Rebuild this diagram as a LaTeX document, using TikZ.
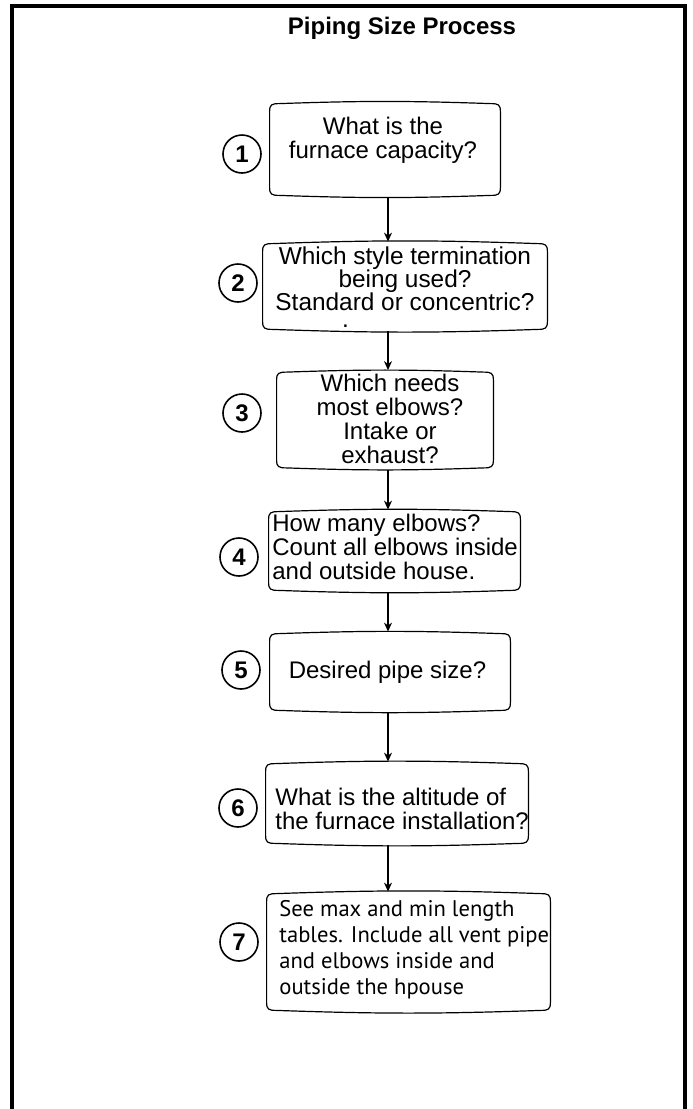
\documentclass[tikz,border=0pt]{standalone}
\usepackage{fontspec}
\setmainfont{Liberation Sans}
\newfontfamily\notefont{PT Sans}
\usetikzlibrary{arrows.meta}

\begin{document}
\begin{tikzpicture}[x=0.5pt, y=0.5pt,
  stepbox/.style={inner sep=0pt, draw=none},
  steptext/.style={inner sep=0pt, align=center, font=\fontsize{12}{12}\selectfont},
  num/.style={circle, draw, line width=0.8pt, inner sep=0pt, minimum size=19pt, font=\fontsize{12}{12}\selectfont\bfseries},
  arr/.style={line width=0.6pt, -{Stealth[length=4.5pt, width=4pt]}}]
\useasboundingbox (0,0) rectangle (692,-1109);

% outer frame
\draw[line width=2pt] (12,-1109) -- (12,-6) -- (685,-6) -- (685,-1109);
\node[font=\fontsize{12}{12}\selectfont\bfseries] (title) at (402,-28) {Piping Size Process};

% boxes
\node[stepbox, minimum width=115pt, minimum height=47.5pt] (q1) at (385,-149.5) {};
\node[stepbox, minimum width=142pt, minimum height=44.5pt] (q2) at (405,-286.5) {};
\node[stepbox, minimum width=108pt, minimum height=49.5pt] (q3) at (385,-420) {};
\node[stepbox, minimum width=125.5pt, minimum height=41pt] (q4) at (394.5,-551) {};
\node[stepbox, minimum width=120pt, minimum height=40pt] (q5) at (390,-672) {};
\node[stepbox, minimum width=131pt, minimum height=41.5pt] (q6) at (397,-803.5) {};
\node[stepbox, minimum width=141.5pt, minimum height=60pt] (q7) at (408.5,-952) {};

\foreach \n in {q1,q2,q3,q4,q5,q6,q7}
  \draw[line width=0.6pt] ([yshift=5pt]\n.south west) -- ([yshift=-5pt]\n.north west)
    .. controls ([yshift=-1.5pt]\n.north west) and ([xshift=1pt,yshift=-1pt]\n.north west) .. ([xshift=5pt,yshift=-1pt]\n.north west)
    to[bend left=2] ([xshift=-5pt,yshift=-1pt]\n.north east)
    .. controls ([xshift=-1pt,yshift=-1pt]\n.north east) and ([yshift=-1.5pt]\n.north east) .. ([yshift=-5pt]\n.north east)
    -- ([yshift=5pt]\n.south east)
    .. controls ([yshift=1.5pt]\n.south east) and ([xshift=-1pt,yshift=1pt]\n.south east) .. ([xshift=-5pt,yshift=1pt]\n.south east)
    to[bend left=2] ([xshift=5pt,yshift=1pt]\n.south west)
    .. controls ([xshift=1pt,yshift=1pt]\n.south west) and ([yshift=1.5pt]\n.south west) .. cycle;

% texts
\node[steptext] (t1) at (383,-140) {What is the\\furnace capacity?};
\node[steptext, font=\fontsize{12.2}{11.5}\selectfont] (t2) at (405,-287) {Which style termination\\being used?\\Standard or concentric?\\[-3pt]\llap{.\hspace{28pt}}};
\node[steptext] (t3) at (390,-419) {Which needs\\most elbows?\\Intake or\\exhaust?};
\node[steptext, anchor=west, align=left] (t4) at (272,-547) {How many elbows?\\Count all elbows inside\\and outside house.};
\node[steptext] (t5) at (387.5,-672) {Desired pipe size?};
\node[steptext, anchor=west, align=left] (t6) at (275,-809) {What is the altitude of\\the furnace installation?};
\node[steptext, anchor=west, align=left, font=\fontsize{11.3}{13}\notefont] (t7) at (279,-950) {See max and min length\\tables. Include all vent pipe\\and elbows inside and\\outside the hpouse};

% step numbers
\node[num] (n1) at (242,-154) {1};
\node[num] (n2) at (238,-283) {2};
\node[num] (n3) at (242,-413) {3};
\node[num] (n4) at (239,-557) {4};
\node[num] (n5) at (241,-670) {5};
\node[num] (n6) at (238,-808) {6};
\node[num] (n7) at (239,-942) {7};

% arrows
\coordinate (spine) at (388,0);
\draw[arr] (q1.south -| spine) -- (q2.north -| spine);
\draw[arr] (q2.south -| spine) -- (q3.north -| spine);
\draw[arr] (q3.south -| spine) -- (q4.north -| spine);
\draw[arr] (q4.south -| spine) -- (q5.north -| spine);
\draw[arr] (q5.south -| spine) -- (q6.north -| spine);
\draw[arr] (q6.south -| spine) -- (q7.north -| spine);
\end{tikzpicture}
\end{document}
